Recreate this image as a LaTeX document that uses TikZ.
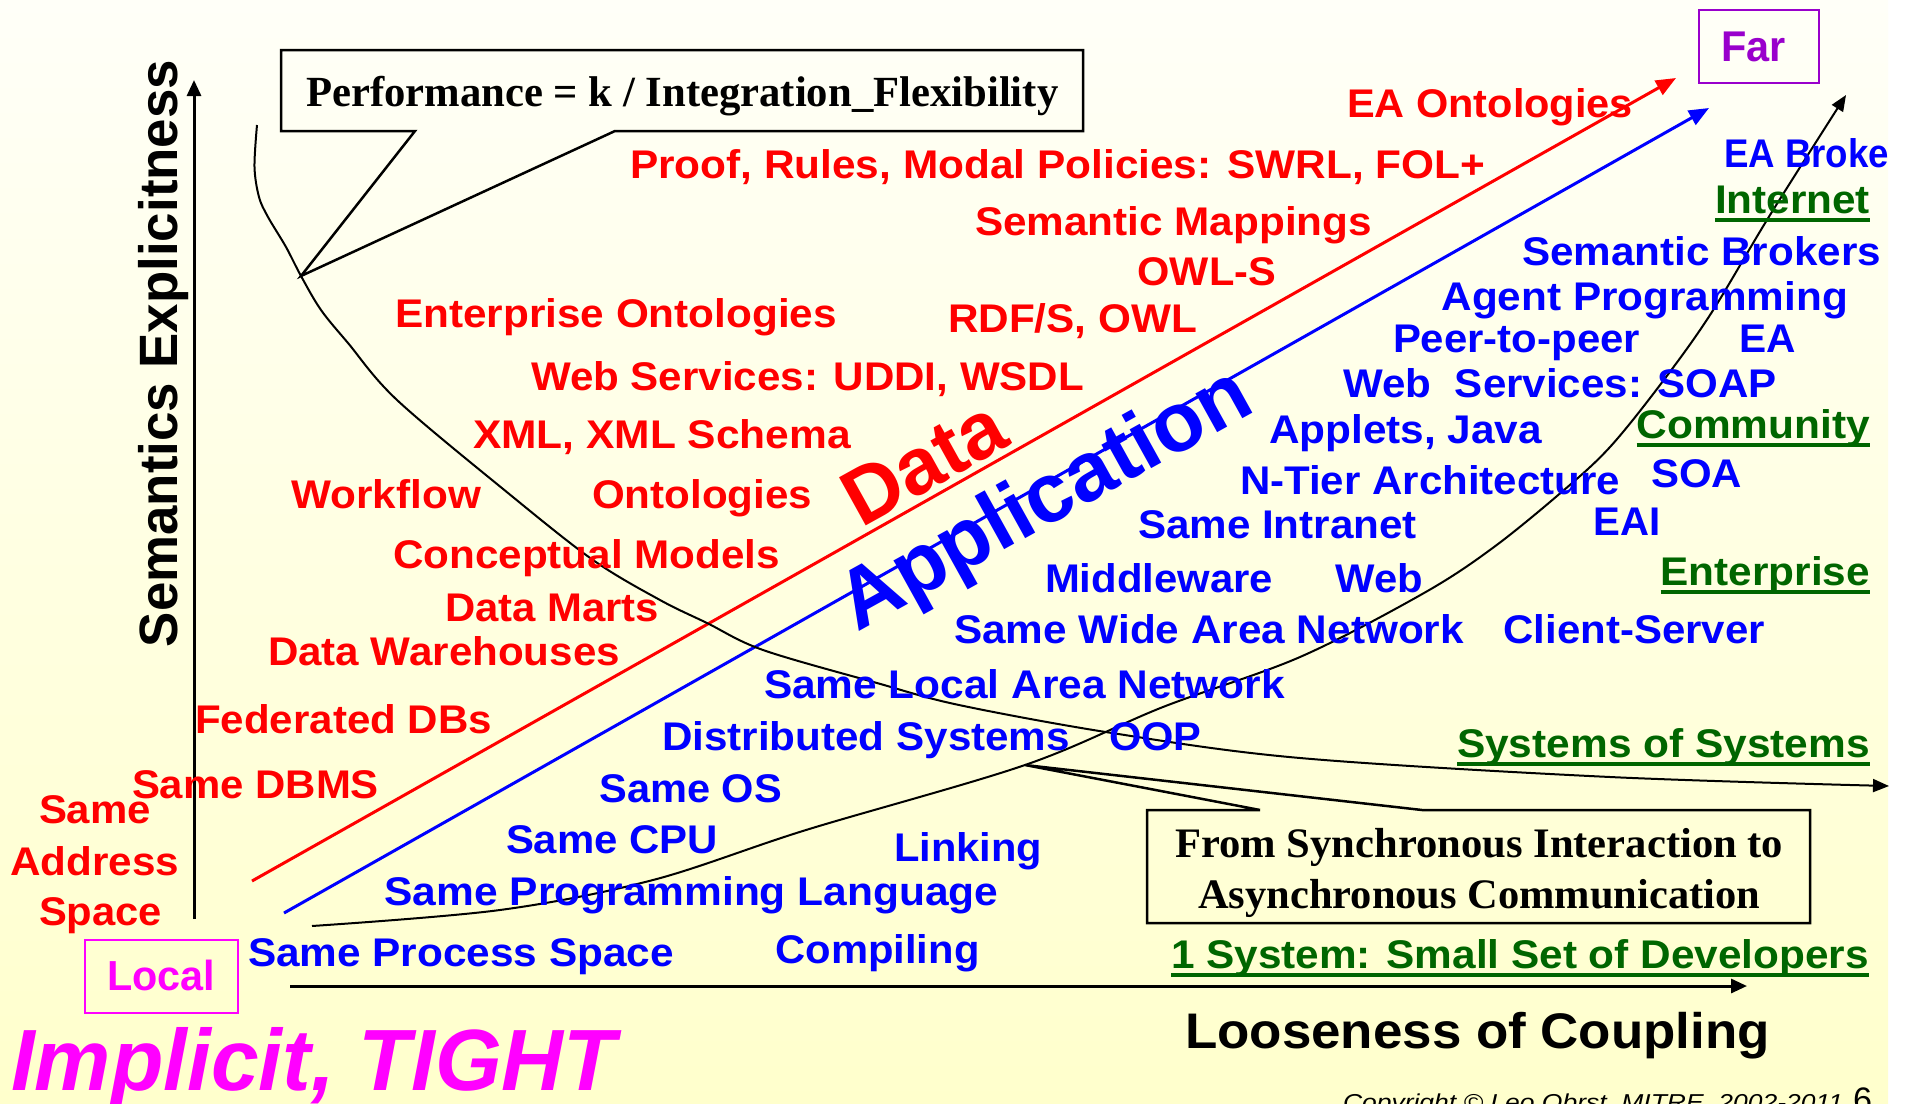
\documentclass[tikz,border=0pt]{standalone}
\usepackage{fontspec}
\setmainfont{Liberation Sans}
\newfontfamily\timesb{Liberation Serif}
\usetikzlibrary{arrows.meta}
\definecolor{dred}{RGB}{255,0,0}
\definecolor{dblue}{RGB}{0,0,255}
\definecolor{dgreen}{RGB}{0,102,0}
\definecolor{dmag}{RGB}{255,0,255}
\definecolor{dpurp}{RGB}{153,0,204}
\definecolor{bgtop}{RGB}{255,255,248}
\definecolor{bgbot}{RGB}{255,255,204}
\newcommand\W[2]{\resizebox{#1pt}{\height}{#2}}
\begin{document}
\begin{tikzpicture}[x=1pt,y=-1pt,
  lbl/.style={anchor=base west,inner sep=0pt,outer sep=0pt,font=\bfseries\fontsize{40}{48}\selectfont},
  dat/.style={lbl,text=dred},
  app/.style={lbl,text=dblue},
  grn/.style={lbl,text=dgreen},
  blk/.style={lbl,text=black},
  uline/.style={dgreen,line width=4pt},
  axis/.style={line width=3pt,-{Triangle[length=16pt,width=14pt]}},
  trend/.style={line width=3pt,-{Triangle[length=20pt,width=16pt]}},
  curve/.style={line width=2pt,-{Triangle[length=16pt,width=13pt]}},
  callout/.style={line width=2.5pt,line join=miter,fill=none},
  tagbox/.style={line width=2pt}]
\useasboundingbox (0,0) rectangle (1908,1103);
\fill[white] (0,0) rectangle (1908,1103);
\shade[top color=bgtop,bottom color=bgbot] (0,0) rectangle (1888,1103);

% axes
\coordinate (yaxS) at (194,919);
\coordinate (yaxE) at (194,80);
\coordinate (xaxS) at (290,986);
\coordinate (xaxE) at (1747,986);
\draw[axis] (yaxS) -- (yaxE);
\draw[axis] (xaxS) -- (xaxE);

% trend lines
\coordinate (redS) at (252,881);
\coordinate (redE) at (1676,78);
\coordinate (bluS) at (284,913);
\coordinate (bluE) at (1709,108);
\draw[trend,dred] (redS) -- (redE);
\draw[trend,dblue] (bluS) -- (bluE);

% descending curve
\coordinate (dcS) at (257,125);
\coordinate (dcE) at (1889,786);
\draw[curve] plot[smooth,tension=0.55] coordinates {(dcS) (254.5,167) (259,197) (268,217) (286,247) (301,276) (321,310) (348,343) (397,400) (508,493) (593,560) (660,600) (707,623) (763,650) (877,683) (959,705) (1112,733) (1300,758) (1610,777) (dcE)};

% ascending curve
\coordinate (acS) at (312,926);
\coordinate (acE) at (1846,95);
\draw[curve] plot[smooth,tension=0.55] coordinates {(acS) (500,910) (653,880) (806,830) (1025,765) (1163,707) (1300,657) (1424,593) (1494,547) (1564,490) (1610,447) (1660,385) (1710,315) (1770,215) (acE)};

% callouts
\coordinate (pfA) at (301,276);
\draw[callout] (415,131) -- (281,131) -- (281,50) -- (1083,50) -- (1083,131) -- (615,131) -- (pfA) -- cycle;
\node[anchor=base west,inner sep=0pt,font=\timesb\bfseries\fontsize{43}{50}\selectfont] (perf) at (306,106) {\W{752}{Performance = k / Integration\_Flexibility}};

\coordinate (asA) at (1025,765);
\draw[callout] (1260,810) -- (1147,810) -- (1147,923) -- (1810,923) -- (1810,810) -- (1422,810) -- (asA) -- cycle;
\node[anchor=base west,inner sep=0pt,font=\timesb\bfseries\fontsize{42}{50}\selectfont] (as1) at (1175,857) {\W{608}{From Synchronous Interaction to}};
\node[anchor=base west,inner sep=0pt,font=\timesb\bfseries\fontsize{42}{50}\selectfont] (as2) at (1198,908) {\W{562}{Asynchronous Communication}};

% Local / Far boxes
\draw[tagbox,dmag] (85,940) rectangle (237.5,1013);
\node[lbl,text=dmag,font=\bfseries\fontsize{42}{48}\selectfont] (local) at (107,990) {\W{108}{Local}};
\draw[tagbox,dpurp] (1699,10) rectangle (1818.5,83);
\node[lbl,text=dpurp,font=\bfseries\fontsize{43}{48}\selectfont] (far) at (1721.5,61) {\W{64.5}{Far}};

% big rotated labels
\node[lbl,text=dred,font=\bfseries\fontsize{80}{90}\selectfont,rotate=29] (data) at (861,528) {Data};
\node[lbl,text=dblue,font=\bfseries\fontsize{84}{90}\selectfont,rotate=29] (appl) at (857,632) {Application};

% axis titles
\node[blk,font=\bfseries\fontsize{54}{60}\selectfont,rotate=90] (ytitle) at (177,647) {\W{587}{Semantics Explicitness}};
\node[blk,font=\bfseries\fontsize{50}{60}\selectfont] (xtitle) at (1185,1048) {\W{585}{Looseness of Coupling}};
\node[lbl,text=dmag,font=\bfseries\itshape\fontsize{87}{90}\selectfont] (tight) at (11,1090) {\W{605}{Implicit, TIGHT}};
\node[lbl,text=black,font=\itshape\fontsize{23}{26}\selectfont] (copy) at (1343,1110) {\W{500}{Copyright \textcopyright{} Leo Obrst, MITRE, 2002-2011}};
\node[lbl,text=black,font=\fontsize{34}{36}\selectfont] (pgno) at (1853,1111) {\W{19}{6}};

% red (data) labels
\node[dat] (d1) at (1347,117) {\W{286}{EA Ontologies}};
\node[dat] (d2) at (630,178) {\W{855}{Proof, Rules, Modal Policies: SWRL, FOL+}};
\node[dat] (d3) at (975,235) {\W{397}{Semantic Mappings}};
\node[dat] (d4) at (1137.5,285) {\W{138.5}{OWL-S}};
\node[dat] (d5) at (948,332) {\W{249}{RDF/S, OWL}};
\node[dat] (d6) at (395,327) {\W{442}{Enterprise Ontologies}};
\node[dat] (d7) at (531,390) {\W{553}{Web Services: UDDI, WSDL}};
\node[dat] (d8) at (473,448) {\W{378}{XML, XML Schema}};
\node[dat] (d9) at (291.5,508) {\W{189.5}{Workflow}};
\node[dat] (d10) at (592,508) {\W{220}{Ontologies}};
\node[dat] (d11) at (393,568) {\W{387}{Conceptual Models}};
\node[dat] (d12) at (445,621) {\W{214}{Data Marts}};
\node[dat] (d13) at (268,665) {\W{352}{Data Warehouses}};
\node[dat] (d14) at (195,733) {\W{297}{Federated DBs}};
\node[dat] (d15) at (132,798) {\W{247}{Same DBMS}};
\node[dat] (d16) at (39,823) {\W{112}{Same}};
\node[dat] (d17) at (10,875) {\W{169}{Address}};
\node[dat] (d18) at (39,925) {\W{123}{Space}};

% blue (application) labels
\node[app] (a1) at (1724,167) {\W{165}{EA Broke}};
\node[app] (a2) at (1522,265) {\W{359}{Semantic Brokers}};
\node[app] (a3) at (1441.5,310) {\W{406.5}{Agent Programming}};
\node[app] (a4) at (1393,352) {\W{247}{Peer-to-peer}};
\node[app] (a5) at (1739.5,352) {\W{56.5}{EA}};
\node[app] (a6) at (1343.5,397) {\W{433.5}{Web\ \ Services: SOAP}};
\node[app] (a7) at (1269,443) {\W{273}{Applets, Java}};
\node[app] (a8) at (1240,494) {\W{380}{N-Tier Architecture}};
\node[app] (a9) at (1651,487) {\W{91}{SOA}};
\node[app] (a10) at (1138,538) {\W{279}{Same Intranet}};
\node[app] (a11) at (1593.5,535) {\W{67}{EAI}};
\node[app] (a12) at (1045,592) {\W{228}{Middleware}};
\node[app] (a13) at (1335.5,592) {\W{87.5}{Web}};
\node[app] (a14) at (954,643) {\W{510}{Same Wide Area Network}};
\node[app] (a15) at (1503.6,643) {\W{261.4}{Client-Server}};
\node[app] (a16) at (764,698) {\W{521}{Same Local Area Network}};
\node[app] (a17) at (662,750) {\W{408}{Distributed Systems}};
\node[app] (a18) at (1109,750) {\W{92.5}{OOP}};
\node[app] (a19) at (599.5,802) {\W{182.5}{Same OS}};
\node[app] (a20) at (506,853) {\W{212}{Same CPU}};
\node[app] (a21) at (894,861) {\W{148}{Linking}};
\node[app] (a22) at (384.5,905) {\W{614}{Same Programming Language}};
\node[app] (a23) at (248,966) {\W{426}{Same Process Space}};
\node[app] (a24) at (775.5,963) {\W{204}{Compiling}};

% green (scope) labels
\node[grn] (g1) at (1715,213) {\W{155}{Internet}};
\node[grn] (g2) at (1636.5,438) {\W{233.5}{Community}};
\node[grn] (g3) at (1660.6,585) {\W{209.4}{Enterprise}};
\node[grn] (g4) at (1457,757) {\W{413}{Systems of Systems}};
\node[grn] (g5) at (1171,968) {\W{698}{1 System: Small Set of Developers}};
\foreach \g in {g1,g2,g3,g4,g5}
  \draw[uline] ([yshift=-7pt]\g.base west) -- ([yshift=-7pt]\g.base east);
\end{tikzpicture}
\end{document}
